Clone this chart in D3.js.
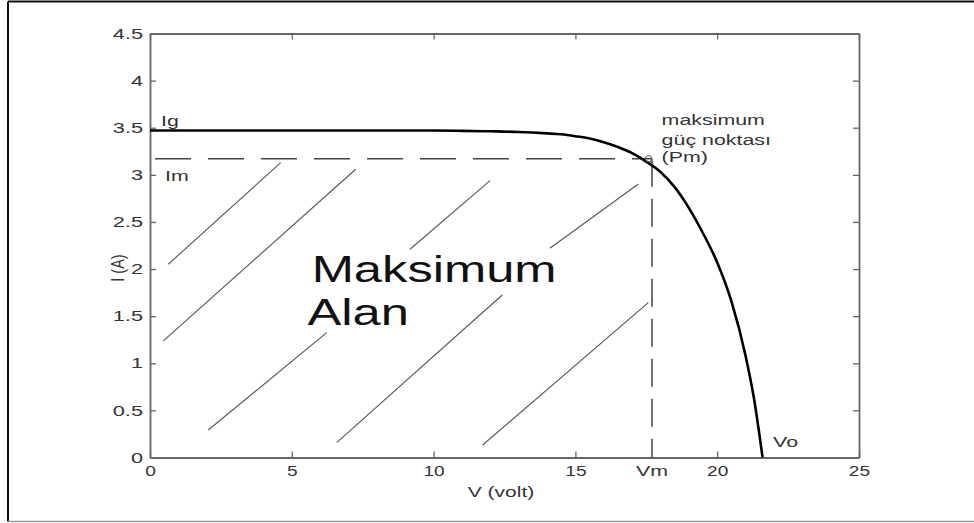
<!DOCTYPE html>
<html><head><meta charset="utf-8">
<script src="https://cdn.jsdelivr.net/npm/d3@7"></script>
<style>body{margin:0;background:#fff}svg{display:block}</style></head>
<body><svg id="c" width="974" height="523"></svg>
<script>
// ---- data ----
const voltage = [0, 2, 4, 6, 8, 10, 11, 12, 13, 14, 14.5, 15, 15.5, 16, 16.5, 17, 17.5, 18, 18.5, 19, 19.5, 20, 20.5, 21, 21.3, 21.6];
const current = [3.47, 3.47, 3.47, 3.47, 3.47, 3.47, 3.467, 3.462, 3.455, 3.44, 3.43, 3.41, 3.385, 3.345, 3.295, 3.23, 3.14, 3.03, 2.87, 2.65, 2.38, 2.07, 1.66, 1.08, 0.62, 0.0];
const xTicks = [0, 5, 10, 15, 20, 25];
const yTicks = [0, 0.5, 1, 1.5, 2, 2.5, 3, 3.5, 4, 4.5];
const Ig = 3.47, Im = 3.17, Vm = 17.7, Vo = 21.6;
// hatch segments (start V, start I, end V, end I)
const hatchV1 = [0.645, 0.469, 9.168, 14.10, 2.056, 6.583, 11.73];
const hatchI1 = [2.051, 1.237, 2.210, 2.221, 0.292, 0.157, 0.133];
const hatchV2 = [4.608, 7.253, 11.99, 17.22, 6.231, 12.42, 17.57];
const hatchI2 = [3.130, 3.059, 2.938, 2.903, 1.325, 1.725, 1.643];

const svg = d3.select("#c");
const W = 974, H = 523;
const L = 150, R = 859, T = 33.5, B = 457.5;
const x = d3.scaleLinear().domain([0, 25]).range([L, R]);
const y = d3.scaleLinear().domain([0, 4.5]).range([B, T]);
const SX = 1.32;
const FONT = "'Liberation Sans', Arial, sans-serif";

svg.append("rect").attr("width", W).attr("height", H).attr("fill", "#fff");
// outer frame
svg.append("line").attr("x1", 8).attr("x2", W).attr("y1", 1.5).attr("y2", 1.5).attr("stroke", "#111").attr("stroke-width", 2);
svg.append("line").attr("x1", 8).attr("x2", 8).attr("y1", 1.5).attr("y2", 521.5).attr("stroke", "#111").attr("stroke-width", 2);
svg.append("line").attr("x1", 8).attr("x2", W).attr("y1", 521.5).attr("y2", 521.5).attr("stroke", "#999").attr("stroke-width", 1.5);

const axColor = "#666";
function styleAxis(g) {
  g.select(".domain").attr("stroke", axColor).attr("stroke-width", 1.8);
  g.selectAll(".tick line").attr("stroke", axColor).attr("stroke-width", 1.3);
  g.selectAll("text").attr("fill", "#333").attr("font-family", FONT).attr("font-size", 14.5);
}
const gx = svg.append("g").attr("transform", `translate(0,${B})`)
  .call(d3.axisBottom(x).tickValues(xTicks).tickSize(-6).tickSizeOuter(0).tickPadding(8).tickFormat(d3.format("d")));
styleAxis(gx);
gx.selectAll("text").attr("transform", `scale(${SX},1)`);
const SY = 1.5;
const gy = svg.append("g").attr("transform", `translate(${L},0)`)
  .call(d3.axisLeft(y).tickValues(yTicks).tickSize(-6).tickSizeOuter(0).tickPadding(7).tickFormat(d => d));
styleAxis(gy);
gy.selectAll("text").attr("x", -7 / SY).attr("transform", `scale(${SY},1)`);
const gt = svg.append("g").attr("transform", `translate(0,${T})`)
  .call(d3.axisTop(x).tickValues(xTicks).tickSize(-6).tickSizeOuter(0).tickFormat(""));
styleAxis(gt);
const gr = svg.append("g").attr("transform", `translate(${R},0)`)
  .call(d3.axisRight(y).tickValues(yTicks).tickSize(-6).tickSizeOuter(0).tickFormat(""));
styleAxis(gr);

// hatch lines
svg.append("g").selectAll("line").data(hatchV1).join("line")
  .attr("x1", (d, i) => x(hatchV1[i])).attr("y1", (d, i) => y(hatchI1[i]))
  .attr("x2", (d, i) => x(hatchV2[i])).attr("y2", (d, i) => y(hatchI2[i]))
  .attr("stroke", "#555").attr("stroke-width", 1.1);

// dashed Im / Vm lines
svg.append("line").attr("x1", x(0) + 5).attr("x2", x(Vm)).attr("y1", y(Im)).attr("y2", y(Im))
  .attr("stroke", "#444").attr("stroke-width", 1.5).attr("stroke-dasharray", "36,17");
svg.append("line").attr("x1", x(Vm)).attr("x2", x(Vm)).attr("y1", y(Im)).attr("y2", y(0))
  .attr("stroke", "#444").attr("stroke-width", 1.5).attr("stroke-dasharray", "28,12");

// IV curve
const pts = voltage.map((v, i) => [v, current[i]]);
svg.append("path").datum(pts)
  .attr("d", d3.line().x(d => x(d[0])).y(d => y(d[1])).curve(d3.curveMonotoneX))
  .attr("fill", "none").attr("stroke", "#000").attr("stroke-width", 2.6);

// Pm marker
svg.append("circle").attr("cx", x(Vm - 0.12)).attr("cy", y(Im)).attr("r", 3.2)
  .attr("fill", "none").attr("stroke", "#555").attr("stroke-width", 1);

// texts
const SA = 1.38;
function txt(s, px, py, size, anchor, sx) {
  svg.append("text").attr("transform", `translate(${px},${py}) scale(${sx || SA},1)`)
    .attr("font-family", FONT).attr("font-size", size).attr("fill", "#333")
    .attr("text-anchor", anchor || "start").text(s);
}
txt("Ig", x(0.39), y(3.52), 15.5);
txt("Im", x(0.53), y(2.935), 15.5);
txt("maksimum", x(18.04), y(3.525), 15.5);
txt("güç noktası", x(18.04), y(3.317), 15.5);
txt("(Pm)", x(18.04), y(3.137), 15.5);
txt("Vm", x(Vm), 476, 15.5, "middle");
txt("Vo", x(21.97), y(0.11), 15.5);
txt("V (volt)", 501, 497, 15, "middle", 1.4);
svg.append("text").attr("transform", `translate(124,268) rotate(-90) scale(1,${SX})`)
  .attr("font-family", FONT).attr("font-size", 14.5).attr("fill", "#333")
  .attr("text-anchor", "middle").text("I (A)");
svg.append("text").attr("transform", `translate(${x(5.70)},${y(1.866)}) scale(1.37,1)`)
  .attr("font-family", FONT).attr("font-size", 37).attr("fill", "#111").text("Maksimum");
svg.append("text").attr("transform", `translate(${x(5.55)},${y(1.41)}) scale(1.37,1)`)
  .attr("font-family", FONT).attr("font-size", 37).attr("fill", "#111").text("Alan");
</script></body></html>
